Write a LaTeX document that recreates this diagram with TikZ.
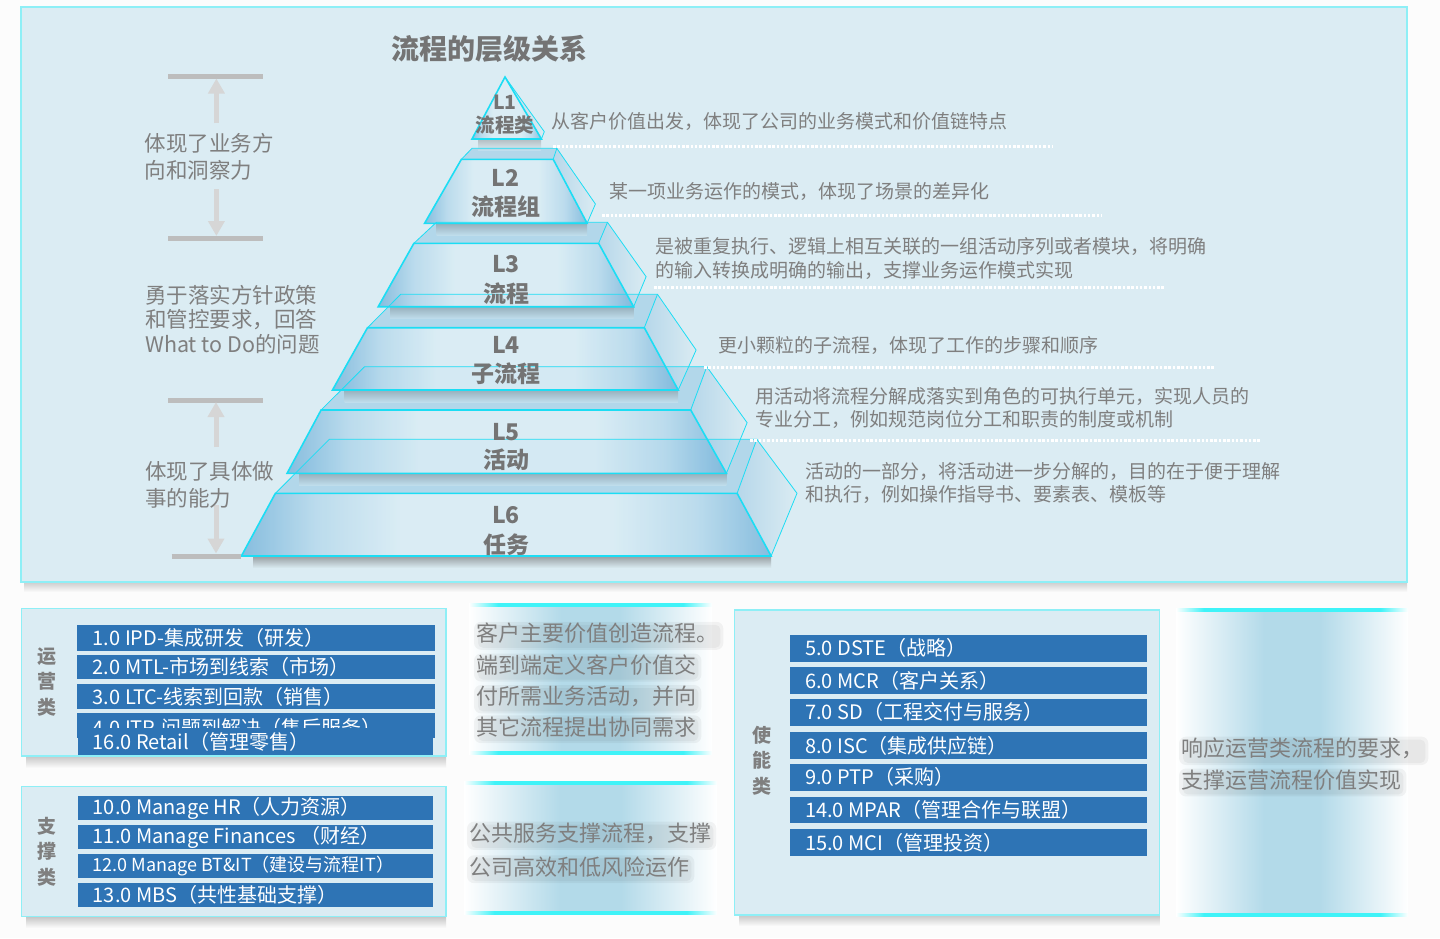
\documentclass[tikz,border=0pt]{standalone}
\usepackage{fontspec}
\setmainfont{Noto Sans CJK SC}
\usetikzlibrary{arrows.meta,calc}
\definecolor{pagebg}{HTML}{FCFCFC}
\definecolor{panelbg}{HTML}{DBECF3}
\definecolor{panelborder}{HTML}{8EEFF6}
\definecolor{cyanedge}{HTML}{1CDDF4}
\definecolor{pyrblue}{HTML}{78B5DB}
\definecolor{pyrlight}{HTML}{B6D9EC}
\definecolor{pyrmid}{HTML}{DAEDF5}
\definecolor{pyrtop}{HTML}{92C6E4}
\definecolor{txtgray}{HTML}{7F7F7F}
\definecolor{titlegray}{HTML}{747474}
\definecolor{bargray}{HTML}{BDBDBD}
\definecolor{arrowgray}{HTML}{D6D6D6}
\definecolor{barblue}{HTML}{2E74B5}
\definecolor{glowblue}{HTML}{B3DAE9}
\definecolor{cyanline}{HTML}{3FF3F8}
\pgfdeclarehorizontalshading{pyrfront}{100bp}{color(0bp)=(pyrblue); color(25bp)=(pyrblue); color(32bp)=(pyrlight); color(40bp)=(pyrmid); color(60bp)=(pyrmid); color(68bp)=(pyrlight); color(75bp)=(pyrblue); color(100bp)=(pyrblue)}
\pgfdeclarehorizontalshading{cyanfade}{100bp}{color(0bp)=(white); color(25bp)=(white); color(31bp)=(cyanline); color(69bp)=(cyanline); color(75bp)=(white); color(100bp)=(white)}
\pgfdeclarehorizontalshading{glowband}{100bp}{color(0bp)=(white); color(25bp)=(white); color(44bp)=(glowblue); color(56bp)=(glowblue); color(75bp)=(white); color(100bp)=(white)}

\newcommand\pyrfill[1]{%
  \shade[top color=black!60, bottom color=panelbg, opacity=0.35]
    ($(#1bfl)+(12,0)$) rectangle ($(#1bfr)+(0,12)$);
  \fill[pyrtop, fill opacity=0.55] (#1tfl) -- (#1tbl) -- (#1tbr) -- (#1tfr) -- cycle;
  \shade[left color=pyrblue!80, right color=panelbg, fill opacity=0.5] (#1tfr) -- (#1tbr) -- (#1bbr) -- (#1bfr) -- cycle;
  \shade[shading=pyrfront, fill opacity=0.85] (#1tfl) -- (#1tfr) -- (#1bfr) -- (#1bfl) -- cycle;
}
\newcommand\pyrlines[1]{%
  \draw[pyredge, line width=0.8pt] (#1tfl) -- (#1tbl) -- (#1tbr) -- (#1tfr);
  \draw[pyredge, line width=0.8pt] (#1tbr) -- (#1bbr) -- (#1bfr);
  \draw[pyredge, line width=1.6pt] (#1bfr) -- (#1bfl) -- (#1tfl) -- (#1tfr) -- cycle;
}
\newcommand\hazetext[3]{%
  \node[midtxt] (#2) at (#1) {#3};
  \begin{pgfonlayer}{haze}
  \fill[black, opacity=0.045, rounded corners=7pt] ($(#2.south west)+(-2,6)$) rectangle ($(#2.north east)+(5,-1)$);
  \fill[black, opacity=0.04, rounded corners=5pt] ($(#2.south west)+(2,4)$) rectangle ($(#2.north east)+(2,2)$);
  \end{pgfonlayer}
}
\pgfdeclarelayer{haze}
\pgfsetlayers{haze,main}

\begin{document}
\begin{tikzpicture}[x=1pt,y=-1pt,
  desc/.style={anchor=west, inner sep=0pt, text=txtgray, font=\fontsize{19}{23}\selectfont},
  sidetxt/.style={anchor=west, inner sep=0pt, text=txtgray, font=\fontsize{21.5}{25}\selectfont},
  midtxt/.style={anchor=west, inner sep=0pt, text=txtgray, font=\fontsize{22}{26}\selectfont},
  bartxt/.style={anchor=west, inner sep=0pt, text=white, font=\fontsize{20}{24}\selectfont},
  procbar/.style={fill=barblue},
  vlabel/.style={align=center, inner sep=0pt, text=txtgray, font=\bfseries\fontsize{19}{25.5}\selectfont},
  pyrlbl/.style={inner sep=0pt, text=titlegray, font=\bfseries\fontsize{23}{26}\selectfont},
  smalllbl/.style={inner sep=0pt, text=titlegray, font=\bfseries\fontsize{19.5}{22}\selectfont},
  dotline/.style={white, line width=3pt, dash pattern=on 2.5pt off 1.8pt},
  graybar/.style={bargray, line width=5pt},
  grayarrow/.style={arrowgray, line width=5pt, -{Triangle[width=16pt,length=15pt]}},
  panel/.style={fill=panelbg, draw=panelborder, line width=1.5pt},
  pyredge/.style={draw=cyanedge},
]
\begin{pgfonlayer}{haze}
\useasboundingbox (0,0) rectangle (1440,938);
\fill[pagebg] (0,0) rectangle (1440,938);
% glow backgrounds of the text blocks
\shade[shading=glowband] (469,606) rectangle (712,752);
\shade[shading=cyanfade] (469,603.5) rectangle (712,606.5);
\shade[shading=cyanfade] (469,751.8) rectangle (712,754.8);
\shade[shading=glowband] (464,785) rectangle (717,912);
\shade[shading=cyanfade] (464,781.8) rectangle (717,784.8);
\shade[shading=cyanfade] (464,911.8) rectangle (717,914.8);
\shade[shading=glowband] (1176,611) rectangle (1408,914);
\shade[shading=cyanfade] (1176,608.5) rectangle (1408,611.5);
\shade[shading=cyanfade] (1176,913.5) rectangle (1408,916.5);
\end{pgfonlayer}

% ---------- top panel ----------
\shade[top color=black!20, bottom color=pagebg] (24,582) rectangle (1407,592);
\filldraw[panel] (21,7) rectangle (1407,582);

\node[font=\bfseries\fontsize{28}{32}\selectfont, text=titlegray, inner sep=0pt] (title) at (489.5,49) {流程的层级关系};

% ---------- pyramid coordinates ----------
\coordinate (L1a) at (505,77);
\coordinate (L1fl) at (472,139);
\coordinate (L1fr) at (541.4,139);
\coordinate (L1br) at (544.3,131.7);

\coordinate (L2tbl) at (472,148.3);   \coordinate (L2tbr) at (556.8,148.3);
\coordinate (L2tfl) at (461.4,159.3); \coordinate (L2tfr) at (553.2,159.3);
\coordinate (L2bfl) at (424.6,223.3); \coordinate (L2bfr) at (587.1,223.3);
\coordinate (L2bbr) at (595.4,204);

\coordinate (L3tbl) at (436.4,222.3); \coordinate (L3tbr) at (607.5,222.3);
\coordinate (L3tfl) at (413.9,243.3); \coordinate (L3tfr) at (598.6,243.3);
\coordinate (L3bfl) at (378.2,306.7); \coordinate (L3bfr) at (633.6,306.7);
\coordinate (L3bbr) at (646.1,276.7);

\coordinate (L4tbl) at (400.7,294.3); \coordinate (L4tbr) at (657.5,294.3);
\coordinate (L4tfl) at (367.5,327.7); \coordinate (L4tfr) at (644.3,327.7);
\coordinate (L4bfl) at (332.5,390);   \coordinate (L4bfr) at (678.2,390);
\coordinate (L4bbr) at (696.1,350);

\coordinate (L5tbl) at (364.6,366.7); \coordinate (L5tbr) at (706.8,366.7);
\coordinate (L5tfl) at (321.1,410);   \coordinate (L5tfr) at (690.7,410);
\coordinate (L5bfl) at (287.1,473.3); \coordinate (L5bfr) at (726.4,473.3);
\coordinate (L5bbr) at (747.1,422.7);

\coordinate (L6tbl) at (329.3,439.3); \coordinate (L6tbr) at (756.8,439.3);
\coordinate (L6tfl) at (275.4,493.3); \coordinate (L6tfr) at (737.1,493.3);
\coordinate (L6bfl) at (241.4,556);   \coordinate (L6bfr) at (771.1,556);
\coordinate (L6bbr) at (797,493.3);

% fills, bottom layer first
\shade[top color=black!60, bottom color=panelbg, opacity=0.35] (253,556) rectangle (771,568);
\pyrfill{L6}
\pyrfill{L5}
\pyrfill{L4}
\pyrfill{L3}
\pyrfill{L2}
\shade[top color=black!60, bottom color=panelbg, opacity=0.35] (478,139) rectangle (541,150);
\shade[left color=pyrblue!70, right color=panelbg, fill opacity=0.5] (L1a) -- (L1fr) -- (L1br) -- cycle;
\shade[shading=pyrfront, fill opacity=0.8] (L1a) -- (L1fr) -- (L1fl) -- cycle;

% edges
\pyrlines{L6}
\pyrlines{L5}
\pyrlines{L4}
\pyrlines{L3}
\pyrlines{L2}
\draw[pyredge, line width=0.8pt] (L1a) -- (L1br) -- (L1fr);
\draw[pyredge, line width=1.6pt] (L1a) -- (L1fr) -- (L1fl) -- cycle;

% pyramid labels
\node[smalllbl] (t1a) at (505,102) {L1};
\node[smalllbl] (t1b) at (505,125) {流程类};
\node[pyrlbl] (t2a) at (505.5,178.3) {L2};
\node[pyrlbl] (t2b) at (505.5,206.7) {流程组};
\node[pyrlbl] (t3a) at (506,264) {L3};
\node[pyrlbl] (t3b) at (506,293.3) {流程};
\node[pyrlbl] (t4a) at (506,345) {L4};
\node[pyrlbl] (t4b) at (506,373.3) {子流程};
\node[pyrlbl] (t5a) at (506,431.7) {L5};
\node[pyrlbl] (t5b) at (506,460) {活动};
\node[pyrlbl] (t6a) at (506,515) {L6};
\node[pyrlbl] (t6b) at (506,545) {任务};

% dotted separators and descriptions
\node[desc] (d1) at (551,121.7) {从客户价值出发，体现了公司的业务模式和价值链特点};
\draw[dotline] (553,146.7) -- (1052,146.7);
\node[desc] (d2) at (609,191.7) {某一项业务运作的模式，体现了场景的差异化};
\draw[dotline] (602,215.7) -- (1102,215.7);
\node[desc] (d3a) at (655,246.7) {是被重复执行、逻辑上相互关联的一组活动序列或者模块，将明确};
\node[desc] (d3b) at (655,270) {的输入转换成明确的输出，支撑业务运作模式实现};
\draw[dotline] (654,287.3) -- (1164,287.3);
\node[desc] (d4) at (718,345) {更小颗粒的子流程，体现了工作的步骤和顺序};
\draw[dotline] (704,367.3) -- (1215,367.3);
\node[desc] (d5a) at (755.5,396.7) {用活动将流程分解成落实到角色的可执行单元，实现人员的};
\node[desc] (d5b) at (755.5,419.3) {专业分工，例如规范岗位分工和职责的制度或机制};
\draw[dotline] (750,440) -- (1261,440);
\node[desc] (d6a) at (805,471.7) {活动的一部分，将活动进一步分解的，目的在于便于理解};
\node[desc] (d6b) at (805,494) {和执行，例如操作指导书、要素表、模板等};

% left annotations
\draw[graybar] (168,76) -- (263,76);
\draw[graybar] (168,238.3) -- (263,238.3);
\coordinate (a1s) at (216.4,123); \coordinate (a1e) at (216.4,78.5);
\coordinate (a2s) at (216.4,189); \coordinate (a2e) at (216.4,236);
\draw[grayarrow] (a1s) -- (a1e);
\draw[grayarrow] (a2s) -- (a2e);
\node[sidetxt] (l1a) at (144.5,143) {体现了业务方};
\node[sidetxt] (l1b) at (144.5,170) {向和洞察力};

\node[sidetxt] (l2a) at (145,295) {勇于落实方针政策};
\node[sidetxt] (l2b) at (145,320) {和管控要求，回答};
\node[sidetxt] (l2c) at (145,344.5) {What to Do的问题};

\draw[graybar] (168.3,400) -- (262.7,400);
\draw[graybar] (171.7,556) -- (241,556);
\coordinate (a3s) at (216,447); \coordinate (a3e) at (216,402);
\coordinate (a4s) at (216,505); \coordinate (a4e) at (216,553.5);
\draw[grayarrow] (a3s) -- (a3e);
\draw[grayarrow] (a4s) -- (a4e);
\node[sidetxt] (l3a) at (145,471.7) {体现了具体做};
\node[sidetxt] (l3b) at (145,498.3) {事的能力};

% ---------- bottom left: operation ----------
\shade[top color=black!22, bottom color=pagebg] (26,756) rectangle (446,768);
\filldraw[panel] (21.5,608.3) rectangle (446.2,756);
\node[vlabel] (yyl) at (47,681.7) {运\\营\\类};
\fill[procbar] (76.6,625) rectangle (434.7,650.7);
\node[bartxt] (b1) at (92.6,638) {1.0 IPD-集成研发（研发）};
\fill[procbar] (76.6,655) rectangle (434.7,679.3);
\node[bartxt] (b2) at (92.6,667) {2.0 MTL-市场到线索（市场）};
\fill[procbar] (76.6,684) rectangle (434.7,709.3);
\node[bartxt] (b3) at (92.6,696.7) {3.0 LTC-线索到回款（销售）};
\fill[procbar] (76.6,713.3) rectangle (434.7,738.3);
\node[bartxt] (b4) at (92.6,727.5) {4.0 ITR-问题到解决（售后服务）};
\fill[procbar] (77.5,728.3) rectangle (433.3,755);
\node[bartxt] (b16) at (92.6,741.7) {16.0 Retail（管理零售）};

% ---------- bottom left: support ----------
\shade[top color=black!22, bottom color=pagebg] (26,916.7) rectangle (446,928);
\filldraw[panel] (21.5,786.7) rectangle (446,916.7);
\node[vlabel] (zcl) at (47,851.7) {支\\撑\\类};
\fill[procbar] (77.5,796) rectangle (433.3,820);
\node[bartxt] (b10) at (92.6,808) {10.0 Manage HR（人力资源）};
\fill[procbar] (77.5,825) rectangle (433.3,848.7);
\node[bartxt] (b11) at (92.6,837) {11.0 Manage Finances （财经）};
\fill[procbar] (77.5,854) rectangle (433.3,877.7);
\node[bartxt, font=\fontsize{18}{22}\selectfont] (b12) at (92.6,866) {12.0 Manage BT\&IT（建设与流程IT）};
\fill[procbar] (77.5,883.3) rectangle (433.3,906.7);
\node[bartxt] (b13) at (92.6,895) {13.0 MBS（共性基础支撑）};

% ---------- middle text blocks ----------
\coordinate (m1) at (476,633.3); \coordinate (m2) at (476,665);
\coordinate (m3) at (476,696.7); \coordinate (m4) at (476,726.7);
\hazetext{m1}{mt1}{客户主要价值创造流程。}
\hazetext{m2}{mt2}{端到端定义客户价值交}
\hazetext{m3}{mt3}{付所需业务活动，并向}
\hazetext{m4}{mt4}{其它流程提出协同需求}

\coordinate (m5) at (469,833.3); \coordinate (m6) at (469,866.7);
\hazetext{m5}{mt5}{公共服务支撑流程，支撑}
\hazetext{m6}{mt6}{公司高效和低风险运作}

% ---------- bottom right: enabling ----------
\shade[top color=black!22, bottom color=pagebg] (739,915) rectangle (1159.5,926);
\filldraw[panel] (734.5,610) rectangle (1159.5,915);
\node[vlabel] (snl) at (762,760.7) {使\\能\\类};
\fill[procbar] (790.3,635) rectangle (1146.5,661.7);
\node[bartxt] (b5) at (805,648.3) {5.0 DSTE（战略）};
\fill[procbar] (790.3,667.3) rectangle (1146.5,694);
\node[bartxt] (b6) at (805,680.7) {6.0 MCR（客户关系）};
\fill[procbar] (790.3,699) rectangle (1146.5,725.7);
\node[bartxt] (b7) at (805,712.3) {7.0 SD（工程交付与服务）};
\fill[procbar] (790.3,732.3) rectangle (1146.5,758.7);
\node[bartxt] (b8) at (805,745.5) {8.0 ISC（集成供应链）};
\fill[procbar] (790.3,764) rectangle (1146.5,790.7);
\node[bartxt] (b9) at (805,777.3) {9.0 PTP（采购）};
\fill[procbar] (790.3,796.7) rectangle (1146.5,823.3);
\node[bartxt] (b14) at (805,810) {14.0 MPAR（管理合作与联盟）};
\fill[procbar] (790.3,829.3) rectangle (1146.5,855.7);
\node[bartxt] (b15) at (805,842.5) {15.0 MCI（管理投资）};

\coordinate (m7) at (1181,748.3); \coordinate (m8) at (1181,780);
\hazetext{m7}{mt7}{响应运营类流程的要求，}
\hazetext{m8}{mt8}{支撑运营流程价值实现}
\end{tikzpicture}
\end{document}
